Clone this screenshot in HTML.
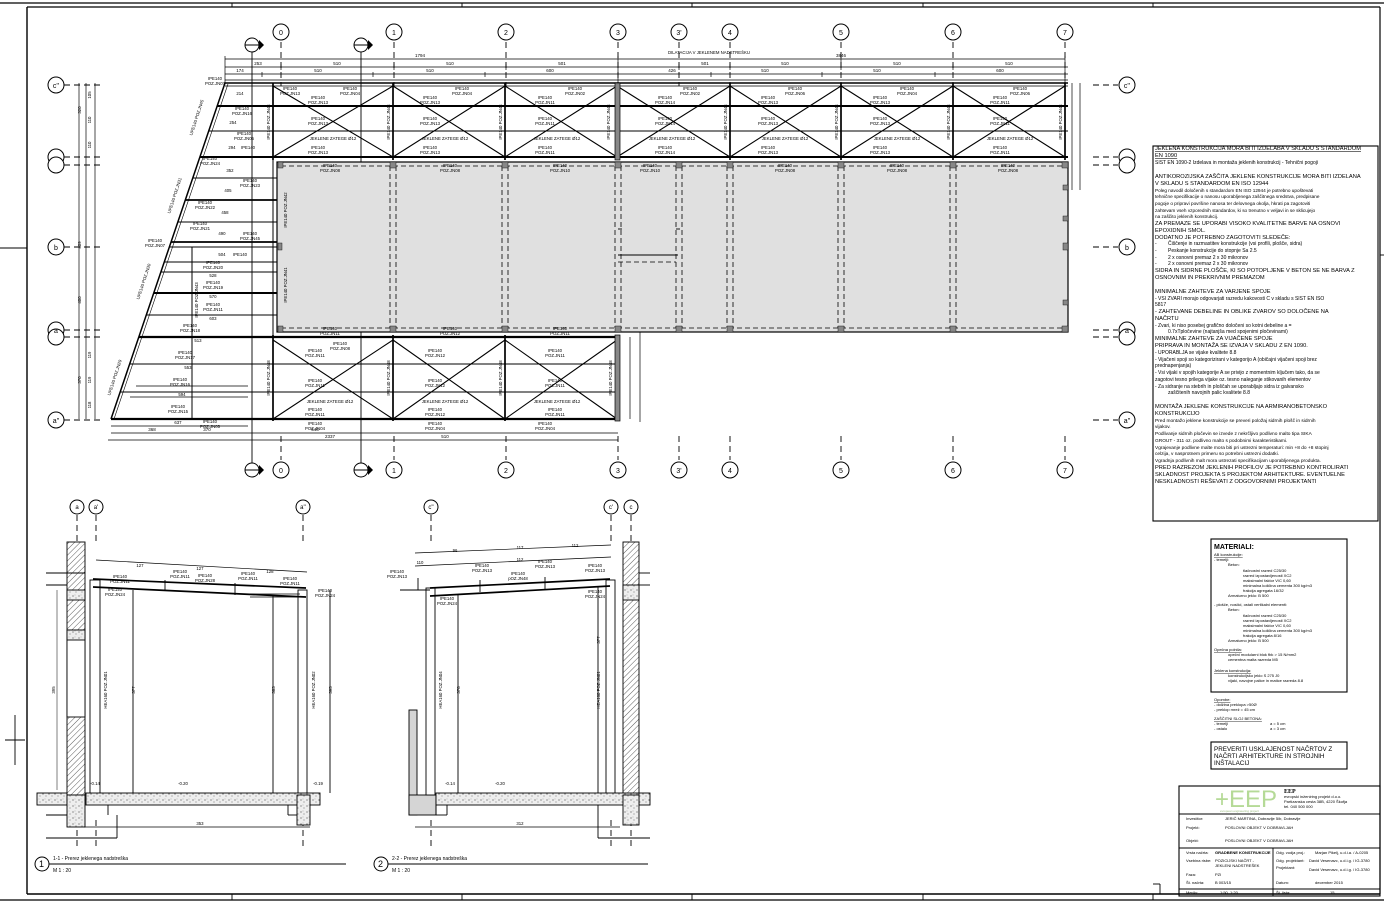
<!DOCTYPE html>
<html><head><meta charset="utf-8"><style>
html,body{margin:0;padding:0;background:#fff;}
svg{display:block;font-family:"Liberation Sans",sans-serif;}
</style></head><body>
<svg width="1384" height="902" viewBox="0 0 1384 902" xmlns="http://www.w3.org/2000/svg">
<defs>
<pattern id="hatch" width="4" height="4" patternUnits="userSpaceOnUse" patternTransform="rotate(45)"><line x1="0" y1="0" x2="0" y2="4" stroke="#333" stroke-width="0.8"/></pattern>
<pattern id="conc" width="6" height="6" patternUnits="userSpaceOnUse"><rect width="6" height="6" fill="#eee"/><circle cx="1" cy="2" r="0.6" fill="#555"/><circle cx="4" cy="4" r="0.5" fill="#555"/><circle cx="3" cy="1" r="0.4" fill="#777"/></pattern>
</defs>
<rect width="1384" height="902" fill="#fff"/>
<!-- frame -->
<g stroke="#000" fill="none">
<line x1="0" y1="3" x2="1384" y2="3" stroke-width="1.2"/>
<line x1="27" y1="7" x2="1380" y2="7" stroke-width="1.2"/>
<line x1="27" y1="7" x2="27" y2="894" stroke-width="1.4"/>
<line x1="27" y1="894" x2="1380" y2="894" stroke-width="1.4"/>
<line x1="0" y1="900" x2="1384" y2="900" stroke-width="1.2"/>
<line x1="1380" y1="7" x2="1380" y2="894" stroke-width="1.2"/>
<line x1="0" y1="248" x2="27" y2="248" stroke-width="0.9"/>
<line x1="1380" y1="255" x2="1384" y2="255" stroke-width="0.9"/>
<line x1="5" y1="740" x2="25" y2="740" stroke-width="0.9"/>
<line x1="15" y1="715" x2="15" y2="765" stroke-width="0.9"/>
<g stroke-width="0.9">
<line x1="232" y1="3" x2="232" y2="7"/><line x1="462" y1="3" x2="462" y2="7"/><line x1="692" y1="3" x2="692" y2="7"/><line x1="923" y1="3" x2="923" y2="7"/><line x1="1153" y1="3" x2="1153" y2="7"/>
<line x1="232" y1="894" x2="232" y2="900"/><line x1="462" y1="894" x2="462" y2="900"/><line x1="692" y1="894" x2="692" y2="900"/><line x1="923" y1="894" x2="923" y2="900"/><line x1="1153" y1="894" x2="1153" y2="900"/>
</g>
</g>

<!-- ============ PLAN ============ -->
<g stroke="#000" stroke-width="0.9" fill="none" stroke-dasharray="6,4">
<line x1="281" y1="42" x2="281" y2="86"/><line x1="394" y1="42" x2="394" y2="86"/><line x1="506" y1="42" x2="506" y2="86"/><line x1="618" y1="42" x2="618" y2="86"/><line x1="679" y1="42" x2="679" y2="86"/><line x1="730" y1="42" x2="730" y2="86"/><line x1="841" y1="42" x2="841" y2="86"/><line x1="953" y1="42" x2="953" y2="86"/><line x1="1065" y1="42" x2="1065" y2="86"/>
<line x1="281" y1="436" x2="281" y2="460"/><line x1="394" y1="436" x2="394" y2="460"/><line x1="506" y1="436" x2="506" y2="460"/><line x1="618" y1="436" x2="618" y2="460"/><line x1="679" y1="436" x2="679" y2="460"/><line x1="730" y1="436" x2="730" y2="460"/><line x1="841" y1="436" x2="841" y2="460"/><line x1="953" y1="436" x2="953" y2="460"/><line x1="1065" y1="436" x2="1065" y2="460"/>
<line x1="64" y1="85" x2="100" y2="85"/><line x1="64" y1="157" x2="100" y2="157"/><line x1="64" y1="165" x2="100" y2="165"/><line x1="64" y1="247" x2="100" y2="247"/><line x1="64" y1="330" x2="100" y2="330"/><line x1="64" y1="337" x2="100" y2="337"/><line x1="64" y1="420" x2="100" y2="420"/>
<line x1="1093" y1="85" x2="1118" y2="85"/><line x1="1093" y1="157" x2="1118" y2="157"/><line x1="1093" y1="165" x2="1118" y2="165"/><line x1="1093" y1="247" x2="1118" y2="247"/><line x1="1093" y1="330" x2="1118" y2="330"/><line x1="1093" y1="337" x2="1118" y2="337"/><line x1="1093" y1="420" x2="1118" y2="420"/>
</g>
<g stroke="#000" stroke-width="1" fill="#fff" font-size="7" text-anchor="middle">
<circle cx="281" cy="32" r="8"/><circle cx="394" cy="32" r="8"/><circle cx="506" cy="32" r="8"/><circle cx="618" cy="32" r="8"/><circle cx="679" cy="32" r="8"/><circle cx="730" cy="32" r="8"/><circle cx="841" cy="32" r="8"/><circle cx="953" cy="32" r="8"/><circle cx="1065" cy="32" r="8"/>
<circle cx="281" cy="470" r="8"/><circle cx="394" cy="470" r="8"/><circle cx="506" cy="470" r="8"/><circle cx="618" cy="470" r="8"/><circle cx="679" cy="470" r="8"/><circle cx="730" cy="470" r="8"/><circle cx="841" cy="470" r="8"/><circle cx="953" cy="470" r="8"/><circle cx="1065" cy="470" r="8"/>
<circle cx="56" cy="85" r="8"/><circle cx="56" cy="157" r="8"/><circle cx="56" cy="165" r="8"/><circle cx="56" cy="247" r="8"/><circle cx="56" cy="330" r="8"/><circle cx="56" cy="337" r="8"/><circle cx="56" cy="420" r="8"/>
<circle cx="1127" cy="85" r="8"/><circle cx="1127" cy="157" r="8"/><circle cx="1127" cy="165" r="8"/><circle cx="1127" cy="247" r="8"/><circle cx="1127" cy="330" r="8"/><circle cx="1127" cy="337" r="8"/><circle cx="1127" cy="420" r="8"/>
</g>
<g font-size="7" text-anchor="middle" fill="#000">
<text x="281" y="35">0</text><text x="394" y="35">1</text><text x="506" y="35">2</text><text x="618" y="35">3</text><text x="679" y="35">3'</text><text x="730" y="35">4</text><text x="841" y="35">5</text><text x="953" y="35">6</text><text x="1065" y="35">7</text>
<text x="281" y="473">0</text><text x="394" y="473">1</text><text x="506" y="473">2</text><text x="618" y="473">3</text><text x="679" y="473">3'</text><text x="730" y="473">4</text><text x="841" y="473">5</text><text x="953" y="473">6</text><text x="1065" y="473">7</text>
<text x="56" y="88">c''</text><text x="56" y="250">b</text><text x="56" y="333">a</text><text x="56" y="423">a''</text>
<text x="1127" y="88">c''</text><text x="1127" y="250">b</text><text x="1127" y="333">a</text><text x="1127" y="423">a''</text>
</g>
<g stroke="#000" stroke-width="0.9">
<line x1="252" y1="45" x2="252" y2="470"/><line x1="361" y1="45" x2="361" y2="470"/>
</g>
<g stroke="#000" stroke-width="1" fill="#fff">
<circle cx="252" cy="45" r="7"/><circle cx="361" cy="45" r="7"/><circle cx="361" cy="178" r="7"/><circle cx="361" cy="303" r="7"/><circle cx="252" cy="470" r="7"/><circle cx="361" cy="470" r="7"/>
<line x1="245" y1="45" x2="259" y2="45"/><line x1="354" y1="45" x2="368" y2="45"/><line x1="354" y1="178" x2="368" y2="178"/><line x1="354" y1="303" x2="368" y2="303"/><line x1="245" y1="470" x2="259" y2="470"/><line x1="354" y1="470" x2="368" y2="470"/>
</g>
<g fill="#000"><path d="M259,40 L264,45 L259,50Z"/><path d="M368,40 L373,45 L368,50Z"/><path d="M368,173 L373,178 L368,183Z"/><path d="M368,298 L373,303 L368,308Z"/><path d="M259,465 L264,470 L259,475Z"/><path d="M368,465 L373,470 L368,475Z"/></g>

<g stroke="#000" stroke-width="0.7">
<line x1="225" y1="59" x2="1065" y2="59"/><line x1="225" y1="67" x2="1068" y2="67"/><line x1="225" y1="74" x2="1068" y2="74"/><line x1="225" y1="80" x2="1068" y2="80"/>
<line x1="225" y1="56" x2="225" y2="83"/><line x1="281" y1="64" x2="281" y2="70"/><line x1="394" y1="64" x2="394" y2="70"/><line x1="506" y1="64" x2="506" y2="70"/><line x1="618" y1="56" x2="618" y2="83"/><line x1="679" y1="64" x2="679" y2="70"/><line x1="730" y1="64" x2="730" y2="70"/><line x1="841" y1="56" x2="841" y2="70"/><line x1="953" y1="64" x2="953" y2="70"/><line x1="1065" y1="56" x2="1065" y2="83"/>
<line x1="262" y1="72" x2="262" y2="77"/><line x1="373" y1="72" x2="373" y2="77"/><line x1="485" y1="72" x2="485" y2="77"/><line x1="711" y1="72" x2="711" y2="77"/><line x1="822" y1="72" x2="822" y2="77"/><line x1="935" y1="72" x2="935" y2="77"/>
<line x1="111" y1="426" x2="248" y2="426"/><line x1="111" y1="433" x2="618" y2="433"/><line x1="108" y1="440" x2="618" y2="440"/>
<line x1="79" y1="83" x2="79" y2="419"/><line x1="86" y1="83" x2="86" y2="419"/><line x1="95" y1="83" x2="95" y2="419"/>
<line x1="1072" y1="83" x2="1072" y2="190"/><line x1="1080" y1="83" x2="1080" y2="190"/>
<line x1="630" y1="337" x2="630" y2="419"/><line x1="640" y1="330" x2="640" y2="422"/>
</g>
<g font-size="4.5" fill="#000" text-anchor="middle">
<text x="420" y="57">1794</text><text x="841" y="57">3846</text>
<text x="258" y="65">253</text><text x="337" y="65">510</text><text x="450" y="65">510</text><text x="562" y="65">501</text><text x="705" y="65">501</text><text x="785" y="65">510</text><text x="897" y="65">510</text><text x="1009" y="65">510</text>
<text x="240" y="72">174</text><text x="318" y="72">510</text><text x="430" y="72">510</text><text x="550" y="72">600</text><text x="672" y="72">426</text><text x="765" y="72">510</text><text x="877" y="72">510</text><text x="1000" y="72">600</text>
<text x="152" y="431">368</text><text x="207" y="431">370</text><text x="315" y="431">546</text><text x="445" y="438">510</text><text x="330" y="438">2337</text>
<text x="668" y="54" text-anchor="start" font-size="4.3">DILATACIJA V JEKLENEM NADSTREŠKU</text>
</g>

<g stroke="#000" fill="none">
<line x1="225" y1="83" x2="1068" y2="83" stroke-width="1.5"/>
<line x1="225" y1="86" x2="1068" y2="86" stroke-width="0.7"/>
<line x1="217" y1="106" x2="1068" y2="106" stroke-width="2"/>
<line x1="209" y1="131" x2="1068" y2="131" stroke-width="1"/>
<line x1="200" y1="157" x2="1068" y2="157" stroke-width="2"/>
<line x1="225" y1="83" x2="111" y2="419" stroke-width="1.5"/>
<line x1="228" y1="84" x2="114" y2="419" stroke-width="0.6"/>
<g stroke-width="1.1">
<path d="M273,86 L393,157 M393,86 L273,157 M393,86 L505,157 M505,86 L393,157 M505,86 L617,157 M617,86 L505,157 M617,86 L730,157 M730,86 L617,157 M730,86 L841,157 M841,86 L730,157 M841,86 L953,157 M953,86 L841,157 M953,86 L1065,157 M1065,86 L953,157"/>
</g>
<g stroke-width="1.7">
<line x1="273" y1="83" x2="273" y2="160"/><line x1="393" y1="83" x2="393" y2="160"/><line x1="505" y1="83" x2="505" y2="160"/><line x1="730" y1="83" x2="730" y2="160"/><line x1="841" y1="83" x2="841" y2="160"/><line x1="953" y1="83" x2="953" y2="160"/><line x1="1065" y1="83" x2="1065" y2="160"/>
</g>
<rect x="615" y="83" width="5" height="77" fill="#888" stroke-width="0.7"/>
<g stroke-width="1">
<line x1="193" y1="178" x2="277" y2="178"/><line x1="185" y1="200" x2="277" y2="200" stroke-width="1.7"/><line x1="178" y1="222" x2="277" y2="222"/><line x1="171" y1="242" x2="277" y2="242" stroke-width="1.7"/><line x1="169" y1="247" x2="277" y2="247"/><line x1="164" y1="262" x2="277" y2="262"/><line x1="161" y1="272" x2="277" y2="272"/><line x1="154" y1="293" x2="277" y2="293" stroke-width="2"/><line x1="146" y1="315" x2="277" y2="315"/>
<line x1="192" y1="247" x2="192" y2="419"/>
<line x1="273" y1="160" x2="273" y2="337"/>
</g>
</g>
<rect x="277" y="162" width="791" height="170" fill="#e0e0e0" stroke="#000" stroke-width="1.2"/>
<g stroke="#000" stroke-width="0.8" fill="none" stroke-dasharray="5,3">
<line x1="281" y1="166" x2="1066" y2="166"/><line x1="281" y1="328" x2="1066" y2="328"/>
<line x1="390" y1="166" x2="390" y2="328"/><line x1="396" y1="166" x2="396" y2="328"/>
<line x1="502" y1="166" x2="502" y2="328"/><line x1="508" y1="166" x2="508" y2="328"/>
<line x1="615" y1="166" x2="615" y2="328"/><line x1="621" y1="166" x2="621" y2="328"/>
<line x1="676" y1="166" x2="676" y2="328"/><line x1="682" y1="166" x2="682" y2="328"/>
<line x1="727" y1="166" x2="727" y2="328"/><line x1="733" y1="166" x2="733" y2="328"/>
<line x1="838" y1="166" x2="838" y2="328"/><line x1="844" y1="166" x2="844" y2="328"/>
<line x1="950" y1="166" x2="950" y2="328"/><line x1="956" y1="166" x2="956" y2="328"/>
<line x1="618" y1="262" x2="676" y2="262"/>
</g>
<g stroke="#000" stroke-width="0.9" fill="none">
<line x1="618" y1="255" x2="678" y2="255"/><line x1="618" y1="229" x2="622" y2="229"/><line x1="676" y1="229" x2="680" y2="229"/>
</g>
<g fill="#888" stroke="#000" stroke-width="0.4">
<rect x="278" y="162" width="5" height="6"/><rect x="390" y="162" width="6" height="6"/><rect x="502" y="162" width="6" height="6"/><rect x="615" y="162" width="6" height="6"/><rect x="676" y="162" width="6" height="6"/><rect x="727" y="162" width="6" height="6"/><rect x="838" y="162" width="6" height="6"/><rect x="950" y="162" width="6" height="6"/><rect x="1062" y="162" width="6" height="6"/>
<rect x="278" y="326" width="5" height="6"/><rect x="390" y="326" width="6" height="6"/><rect x="502" y="326" width="6" height="6"/><rect x="615" y="326" width="6" height="6"/><rect x="676" y="326" width="6" height="6"/><rect x="727" y="326" width="6" height="6"/><rect x="838" y="326" width="6" height="6"/><rect x="950" y="326" width="6" height="6"/><rect x="1062" y="326" width="6" height="6"/>
<rect x="1063" y="185" width="5" height="5"/><rect x="1063" y="216" width="5" height="5"/><rect x="1063" y="243" width="5" height="7"/><rect x="1063" y="300" width="5" height="5"/>
<rect x="278" y="243" width="4" height="7"/>
</g>
<g stroke="#000" fill="none">
<line x1="139" y1="337" x2="620" y2="337" stroke-width="2.2"/>
<line x1="130" y1="364" x2="620" y2="364" stroke-width="1"/>
<line x1="120" y1="392" x2="620" y2="392" stroke-width="1"/>
<line x1="111" y1="419" x2="620" y2="419" stroke-width="2.2"/>
<g stroke-width="1.1"><path d="M273,340 L393,419 M393,340 L273,419 M393,340 L505,419 M505,340 L393,419 M505,340 L617,419 M617,340 L505,419"/></g>
<g stroke-width="1.7"><line x1="273" y1="335" x2="273" y2="421"/><line x1="393" y1="335" x2="393" y2="421"/><line x1="505" y1="335" x2="505" y2="421"/></g>
<rect x="615" y="335" width="5" height="86" fill="#888" stroke-width="0.7"/>
<line x1="136" y1="386" x2="248" y2="386" stroke-width="0.7"/><line x1="130" y1="397" x2="248" y2="397" stroke-width="0.7"/>
</g>
<g font-size="4.3" fill="#000" text-anchor="middle">
<text x="290" y="90">IPE140</text><text x="290" y="95">POZ.JN13</text>
<text x="350" y="90">IPE140</text><text x="350" y="95">POZ.JN04</text>
<text x="318" y="99">IPE140</text><text x="318" y="104">POZ.JN13</text>
<text x="318" y="120">IPE140</text><text x="318" y="125">POZ.JN13</text>
<text x="333" y="140">JEKLENE ZATEGE Ø12</text>
<text x="318" y="149">IPE140</text><text x="318" y="154">POZ.JN13</text>
<text x="462" y="90">IPE140</text><text x="462" y="95">POZ.JN04</text>
<text x="430" y="99">IPE140</text><text x="430" y="104">POZ.JN13</text>
<text x="430" y="120">IPE140</text><text x="430" y="125">POZ.JN13</text>
<text x="445" y="140">JEKLENE ZATEGE Ø12</text>
<text x="430" y="149">IPE140</text><text x="430" y="154">POZ.JN13</text>
<text x="575" y="90">IPE140</text><text x="575" y="95">POZ.JN02</text>
<text x="545" y="99">IPE140</text><text x="545" y="104">POZ.JN11</text>
<text x="545" y="120">IPE140</text><text x="545" y="125">POZ.JN11</text>
<text x="557" y="140">JEKLENE ZATEGE Ø12</text>
<text x="545" y="149">IPE140</text><text x="545" y="154">POZ.JN11</text>
<text x="690" y="90">IPE140</text><text x="690" y="95">POZ.JN02</text>
<text x="665" y="99">IPE140</text><text x="665" y="104">POZ.JN14</text>
<text x="665" y="120">IPE140</text><text x="665" y="125">POZ.JN14</text>
<text x="672" y="140">JEKLENE ZATEGE Ø12</text>
<text x="665" y="149">IPE140</text><text x="665" y="154">POZ.JN14</text>
<text x="795" y="90">IPE140</text><text x="795" y="95">POZ.JN06</text>
<text x="768" y="99">IPE140</text><text x="768" y="104">POZ.JN13</text>
<text x="768" y="120">IPE140</text><text x="768" y="125">POZ.JN13</text>
<text x="785" y="140">JEKLENE ZATEGE Ø12</text>
<text x="768" y="149">IPE140</text><text x="768" y="154">POZ.JN13</text>
<text x="907" y="90">IPE140</text><text x="907" y="95">POZ.JN04</text>
<text x="880" y="99">IPE140</text><text x="880" y="104">POZ.JN13</text>
<text x="880" y="120">IPE140</text><text x="880" y="125">POZ.JN13</text>
<text x="897" y="140">JEKLENE ZATEGE Ø12</text>
<text x="880" y="149">IPE140</text><text x="880" y="154">POZ.JN13</text>
<text x="1020" y="90">IPE140</text><text x="1020" y="95">POZ.JN06</text>
<text x="1000" y="99">IPE140</text><text x="1000" y="104">POZ.JN11</text>
<text x="1000" y="120">IPE140</text><text x="1000" y="125">POZ.JN11</text>
<text x="1010" y="140">JEKLENE ZATEGE Ø12</text>
<text x="1000" y="149">IPE140</text><text x="1000" y="154">POZ.JN11</text>
<text x="330" y="167">IPE140</text><text x="330" y="172">POZ.JN08</text>
<text x="450" y="167">IPE140</text><text x="450" y="172">POZ.JN08</text>
<text x="560" y="167">IPE140</text><text x="560" y="172">POZ.JN10</text>
<text x="650" y="167">IPE140</text><text x="650" y="172">POZ.JN10</text>
<text x="785" y="167">IPE140</text><text x="785" y="172">POZ.JN08</text>
<text x="897" y="167">IPE140</text><text x="897" y="172">POZ.JN08</text>
<text x="1008" y="167">IPE140</text><text x="1008" y="172">POZ.JN08</text>
<text x="330" y="330">IPE140</text><text x="330" y="335">POZ.JN11</text>
<text x="450" y="330">IPE140</text><text x="450" y="335">POZ.JN12</text>
<text x="560" y="330">IPE140</text><text x="560" y="335">POZ.JN11</text>
<text x="340" y="345">IPE140</text><text x="340" y="350">POZ.JN08</text>
<text x="315" y="352">IPE140</text><text x="315" y="357">POZ.JN11</text>
<text x="435" y="352">IPE140</text><text x="435" y="357">POZ.JN12</text>
<text x="555" y="352">IPE140</text><text x="555" y="357">POZ.JN11</text>
<text x="315" y="382">IPE140</text><text x="315" y="387">POZ.JN11</text>
<text x="435" y="382">IPE140</text><text x="435" y="387">POZ.JN12</text>
<text x="555" y="382">IPE140</text><text x="555" y="387">POZ.JN11</text>
<text x="330" y="403">JEKLENE ZATEGE Ø12</text><text x="445" y="403">JEKLENE ZATEGE Ø12</text><text x="557" y="403">JEKLENE ZATEGE Ø12</text>
<text x="315" y="411">IPE140</text><text x="315" y="416">POZ.JN11</text>
<text x="435" y="411">IPE140</text><text x="435" y="416">POZ.JN12</text>
<text x="555" y="411">IPE140</text><text x="555" y="416">POZ.JN11</text>
<text x="315" y="425">IPE140</text><text x="315" y="430">POZ.JN04</text>
<text x="435" y="425">IPE140</text><text x="435" y="430">POZ.JN04</text>
<text x="545" y="425">IPE140</text><text x="545" y="430">POZ.JN04</text>
<text x="215" y="80">IPE140</text><text x="215" y="85">POZ.JN07</text>
<text x="240" y="95">214</text><text x="242" y="110">IPE140</text><text x="242" y="115">POZ.JN16</text>
<text x="233" y="124">254</text><text x="244" y="135">IPE140</text><text x="244" y="140">POZ.JN05</text>
<text x="232" y="149">294</text><text x="248" y="149">IPE140</text>
<text x="210" y="160">IPE140</text><text x="210" y="165">POZ.JN24</text><text x="230" y="172">352</text>
<text x="250" y="182">IPE140</text><text x="250" y="187">POZ.JN23</text><text x="228" y="192">405</text>
<text x="205" y="204">IPE140</text><text x="205" y="209">POZ.JN22</text><text x="225" y="214">458</text>
<text x="200" y="225">IPE140</text><text x="200" y="230">POZ.JN21</text><text x="222" y="235">490</text>
<text x="250" y="235">IPE140</text><text x="250" y="240">POZ.JN45</text>
<text x="155" y="242">IPE140</text><text x="155" y="247">POZ.JN07</text>
<text x="222" y="256">504</text><text x="240" y="256">IPE140</text>
<text x="213" y="264">IPE140</text><text x="213" y="269">POZ.JN20</text><text x="213" y="277">528</text>
<text x="213" y="284">IPE140</text><text x="213" y="289">POZ.JN19</text><text x="213" y="298">570</text>
<text x="213" y="306">IPE140</text><text x="213" y="311">POZ.JN11</text><text x="213" y="320">603</text>
<text x="190" y="327">IPE140</text><text x="190" y="332">POZ.JN18</text><text x="198" y="342">513</text>
<text x="185" y="354">IPE140</text><text x="185" y="359">POZ.JN17</text><text x="188" y="369">553</text>
<text x="180" y="381">IPE140</text><text x="180" y="386">POZ.JN16</text><text x="182" y="396">594</text>
<text x="178" y="408">IPE140</text><text x="178" y="413">POZ.JN15</text><text x="178" y="424">637</text>
<text x="210" y="423">IPE140</text><text x="210" y="428">POZ.JN05</text>
</g>
<g font-size="4.3" fill="#000" text-anchor="middle">
<text transform="translate(390,122) rotate(-90)">IPE140 POZ.JN44</text>
<text transform="translate(502,122) rotate(-90)">IPE140 POZ.JN44</text>
<text transform="translate(610,122) rotate(-90)">IPE140 POZ.JN44</text>
<text transform="translate(727,122) rotate(-90)">IPE140 POZ.JN44</text>
<text transform="translate(838,122) rotate(-90)">IPE140 POZ.JN44</text>
<text transform="translate(950,122) rotate(-90)">IPE140 POZ.JN44</text>
<text transform="translate(1062,122) rotate(-90)">IPE140 POZ.JN44</text>
<text transform="translate(270,122) rotate(-90)">IPE140 POZ.JN44</text>
<text transform="translate(287,210) rotate(-90)">IPE140 POZ.JN42</text>
<text transform="translate(287,285) rotate(-90)">IPE140 POZ.JN41</text>
<text transform="translate(270,378) rotate(-90)">IPE140 POZ.JN48</text>
<text transform="translate(390,378) rotate(-90)">IPE140 POZ.JN48</text>
<text transform="translate(502,378) rotate(-90)">IPE140 POZ.JN48</text>
<text transform="translate(612,378) rotate(-90)">IPE140 POZ.JN48</text>
<text transform="translate(198,300) rotate(-90)">IPE140 POZ.JN43</text>
<text transform="translate(198,118) rotate(-72)">UPE140 POZ.JN45</text>
<text transform="translate(176,196) rotate(-72)">UPE140 POZ.JN31</text>
<text transform="translate(145,282) rotate(-72)">UPE140 POZ.JN30</text>
<text transform="translate(116,378) rotate(-72)">UPE140 POZ.JN29</text>
<text transform="translate(81,110) rotate(-90)">320</text><text transform="translate(81,245) rotate(-90)">409</text><text transform="translate(81,300) rotate(-90)">400</text><text transform="translate(81,380) rotate(-90)">370</text>
<text transform="translate(91,95) rotate(-90)">105</text><text transform="translate(91,120) rotate(-90)">110</text><text transform="translate(91,145) rotate(-90)">110</text><text transform="translate(91,355) rotate(-90)">119</text><text transform="translate(91,380) rotate(-90)">119</text><text transform="translate(91,405) rotate(-90)">118</text>
</g>

<!-- ============ SECTION 1 ============ -->
<g stroke="#000" stroke-width="0.9" fill="none" stroke-dasharray="6,4">
<line x1="77" y1="515" x2="77" y2="545"/><line x1="96" y1="515" x2="96" y2="545"/><line x1="303" y1="515" x2="303" y2="545"/>
<line x1="77" y1="820" x2="77" y2="848"/><line x1="96" y1="820" x2="96" y2="848"/><line x1="303" y1="820" x2="303" y2="848"/>
<line x1="96" y1="580" x2="96" y2="795"/><line x1="303" y1="590" x2="303" y2="795"/>
<line x1="431" y1="515" x2="431" y2="545"/><line x1="611" y1="515" x2="611" y2="545"/><line x1="631" y1="515" x2="631" y2="545"/>
<line x1="431" y1="820" x2="431" y2="848"/><line x1="611" y1="820" x2="611" y2="848"/><line x1="631" y1="820" x2="631" y2="848"/>
<line x1="431" y1="590" x2="431" y2="795"/><line x1="611" y1="582" x2="611" y2="795"/>
</g>
<g stroke="#000" stroke-width="1" fill="#fff">
<circle cx="77" cy="507" r="7"/><circle cx="96" cy="507" r="7"/><circle cx="303" cy="507" r="7"/>
<circle cx="431" cy="507" r="7"/><circle cx="611" cy="507" r="7"/><circle cx="631" cy="507" r="7"/>
</g>
<g font-size="6" text-anchor="middle"><text x="77" y="509">a</text><text x="96" y="509">a'</text><text x="303" y="509">a''</text><text x="431" y="509">c''</text><text x="611" y="509">c'</text><text x="631" y="509">c</text></g>

<g stroke="#000" stroke-width="0.9">
<rect x="67" y="542" width="18" height="253" fill="url(#hatch)"/>
<rect x="67" y="590" width="18" height="10" fill="url(#conc)"/>
<rect x="67" y="630" width="18" height="87" fill="#fff"/>
<rect x="67" y="630" width="18" height="10" fill="url(#conc)"/>
<line x1="46" y1="573" x2="85" y2="573"/><line x1="46" y1="585" x2="67" y2="585"/>
<rect x="90" y="580" width="10" height="215" fill="#fff"/>
<rect x="298" y="590" width="9" height="205" fill="#fff"/>
<line x1="133" y1="590" x2="133" y2="793"/><line x1="273" y1="595" x2="273" y2="793"/><line x1="330" y1="590" x2="330" y2="793"/>
<line x1="57" y1="590" x2="57" y2="790" stroke-width="0.5"/>
<line x1="93" y1="579" x2="306" y2="588" stroke-width="1.7"/>
<line x1="93" y1="587" x2="306" y2="597" stroke-width="1.7"/>
<line x1="96" y1="560" x2="307" y2="572" stroke-width="0.7"/>
<line x1="165" y1="580" x2="165" y2="590"/><line x1="235" y1="583" x2="235" y2="595"/>
<line x1="250" y1="594" x2="300" y2="594" stroke-width="0.7"/><line x1="250" y1="597" x2="300" y2="597" stroke-width="0.7"/>
<rect x="86" y="793" width="234" height="12" fill="url(#conc)"/>
<rect x="37" y="793" width="30" height="12" fill="url(#conc)"/>
<rect x="67" y="795" width="18" height="32" fill="url(#conc)"/>
<rect x="297" y="795" width="13" height="30" fill="url(#conc)"/>
<line x1="46" y1="815" x2="67" y2="815"/><line x1="46" y1="838" x2="117" y2="838"/><line x1="117" y1="815" x2="117" y2="838"/><line x1="108" y1="805" x2="108" y2="815"/>
<line x1="288" y1="805" x2="288" y2="815"/><line x1="288" y1="815" x2="297" y2="815"/>
<line x1="84" y1="827" x2="310" y2="827" stroke-width="0.7"/>
</g>
<g font-size="4.3" fill="#000" text-anchor="middle">
<text x="140" y="567">127</text><text x="200" y="570">127</text><text x="270" y="573">128</text>
<text x="120" y="578">IPE140</text><text x="120" y="583">POZ.JN11</text>
<text x="180" y="573">IPE140</text><text x="180" y="578">POZ.JN11</text>
<text x="205" y="577">IPE140</text><text x="205" y="582">POZ.JN28</text>
<text x="248" y="575">IPE140</text><text x="248" y="580">POZ.JN11</text>
<text x="290" y="580">IPE140</text><text x="290" y="585">POZ.JN11</text>
<text x="115" y="591">IPE140</text><text x="115" y="596">POZ.JN24</text>
<text x="325" y="592">IPE140</text><text x="325" y="597">POZ.JN24</text>
<text x="200" y="825">353</text><text x="95" y="785">-0.14</text><text x="183" y="785">-0.20</text><text x="318" y="785">-0.19</text>
<text transform="translate(107,690) rotate(-90)">HEA160 POZ.JN01</text>
<text transform="translate(315,690) rotate(-90)">HEA160 POZ.JN02</text>
<text transform="translate(135,690) rotate(-90)">377</text>
<text transform="translate(275,690) rotate(-90)">383</text>
<text transform="translate(332,690) rotate(-90)">395</text>
<text transform="translate(55,690) rotate(-90)">395</text>
</g>

<!-- ============ SECTION 2 ============ -->
<g stroke="#000" stroke-width="0.9">
<rect x="409" y="710" width="8" height="105" fill="#d5d5d5"/>
<rect x="409" y="795" width="27" height="20" fill="#d5d5d5"/>
<rect x="426" y="588" width="9" height="207" fill="#fff"/>
<rect x="606" y="580" width="9" height="215" fill="#fff"/>
<rect x="623" y="542" width="16" height="253" fill="url(#hatch)"/>
<rect x="623" y="585" width="16" height="15" fill="url(#conc)"/>
<line x1="639" y1="573" x2="650" y2="573"/><line x1="639" y1="585" x2="650" y2="585"/>
<line x1="458" y1="594" x2="458" y2="793"/><line x1="598" y1="586" x2="598" y2="793"/>
<line x1="430" y1="588" x2="610" y2="579" stroke-width="1.7"/>
<line x1="430" y1="596" x2="610" y2="586" stroke-width="1.7"/>
<line x1="415" y1="553" x2="611" y2="545" stroke-width="0.7"/>
<line x1="415" y1="566" x2="611" y2="557" stroke-width="0.7"/>
<line x1="480" y1="580" x2="480" y2="592"/><line x1="545" y1="577" x2="545" y2="589"/>
<line x1="400" y1="590" x2="430" y2="590"/><line x1="418" y1="578" x2="418" y2="590"/>
<rect x="436" y="793" width="203" height="12" fill="url(#conc)"/>
<rect x="639" y="793" width="11" height="12" fill="url(#conc)"/>
<rect x="623" y="795" width="16" height="30" fill="url(#conc)"/>
<line x1="436" y1="805" x2="436" y2="815"/><line x1="436" y1="815" x2="447" y2="815"/><line x1="447" y1="805" x2="447" y2="815"/>
<line x1="598" y1="805" x2="598" y2="838"/><line x1="598" y1="838" x2="650" y2="838"/>
<line x1="415" y1="827" x2="620" y2="827" stroke-width="0.7"/>
</g>
<g font-size="4.3" fill="#000" text-anchor="middle">
<text x="455" y="552">96</text><text x="520" y="549">117</text><text x="575" y="547">112</text>
<text x="420" y="564">110</text><text x="520" y="561">112</text>
<text x="397" y="573">IPE140</text><text x="397" y="578">POZ.JN13</text>
<text x="482" y="567">IPE140</text><text x="482" y="572">POZ.JN13</text>
<text x="518" y="575">IPE140</text><text x="518" y="580">pOZ.JN48</text>
<text x="545" y="563">IPE140</text><text x="545" y="568">POZ.JN13</text>
<text x="595" y="567">IPE140</text><text x="595" y="572">POZ.JN13</text>
<text x="447" y="600">IPE140</text><text x="447" y="605">POZ.JN24</text>
<text x="595" y="593">IPE140</text><text x="595" y="598">POZ.JN24</text>
<text x="520" y="825">312</text><text x="450" y="785">-0.14</text><text x="500" y="785">-0.20</text>
<text transform="translate(442,690) rotate(-90)">HEA160 POZ.JN04</text>
<text transform="translate(600,690) rotate(-90)">HEA160 POZ.JN01</text>
<text transform="translate(460,690) rotate(-90)">378</text>
<text transform="translate(600,640) rotate(-90)">377</text>
</g>
<g stroke="#000" fill="#fff" stroke-width="1">
<circle cx="42" cy="864" r="7"/><circle cx="381" cy="864" r="7"/>
<line x1="49" y1="864" x2="346" y2="864"/><line x1="388" y1="864" x2="648" y2="864"/>
</g>
<g font-size="5" fill="#000">
<text x="39" y="867" font-size="9">1</text><text x="378" y="867" font-size="9">2</text>
<text x="53" y="860">1-1 - Prerez jeklenega nadstreška</text><text x="53" y="872">M   1 : 20</text>
<text x="392" y="860">2-2 - Prerez jeklenega nadstreška</text><text x="392" y="872">M   1 : 20</text>
</g>

<!-- ============ NOTES ============ -->
<rect x="1153" y="146" width="225" height="375" fill="none" stroke="#000" stroke-width="1.1"/>
<g font-size="5.7" fill="#000">
<text x="1155" y="150" text-decoration="underline">JEKLENA KONSTRUKCIJA MORA BITI IZDELABA V SKLADU S STANDARDOM</text>
<text x="1155" y="157" text-decoration="underline">EN 1090</text>
<text x="1155" y="164" font-size="5">SIST EN 1090-2 Izdelava in montaža jeklenih konstrukcij - Tehnični pogoji</text>
<text x="1155" y="178">ANTIKOROZIJSKA ZAŠČITA JEKLENE KONSTRUKCIJE MORA BITI IZDELANA</text>
<text x="1155" y="185">V SKLADU S STANDARDOM EN ISO 12944</text>
<g font-size="4.7">
<text x="1155" y="192">Poleg navodil določenih s standardom EN ISO 12944 je potrebno upoštevati</text>
<text x="1155" y="198">tehnične specifikacije o nanosu uporabljenega zaščitnega sredstva, predpisane</text>
<text x="1155" y="205">pogoje o pripravi površine nanosa ter delovnega okolja, hkrati pa zagotoviti</text>
<text x="1155" y="212">zahtevam vseh vzporednih standardov, ki so trenutno v veljavi in se sklicujejo</text>
<text x="1155" y="218">na zaščito jeklenih konstrukcij.</text>
</g>
<text x="1155" y="225">ZA PREMAZE SE UPORABI VISOKO KVALITETNE BARVE NA OSNOVI</text>
<text x="1155" y="232">EPOXIDNIH SMOL.</text>
<text x="1155" y="239">DODATNO JE POTREBNO ZAGOTOVITI SLEDEČE:</text>
<g font-size="5">
<text x="1155" y="245">-</text><text x="1168" y="245">Čiščenje in razmastitev konstrukcije (vsi profili, plošče, sidra)</text>
<text x="1155" y="252">-</text><text x="1168" y="252">Peskanje konstrukcije do stopnje Sa 2.5</text>
<text x="1155" y="259">-</text><text x="1168" y="259">2 x osnovni premaz 2 x 30 mikronov</text>
<text x="1155" y="265">-</text><text x="1168" y="265">2 x osnovni premaz 2 x 30 mikronov</text>
</g>
<text x="1155" y="272">SIDRA IN SIDRNE PLOŠČE, KI SO POTOPLJENE V BETON SE NE BARVA Z</text>
<text x="1155" y="279">OSNOVNIM IN PREKRIVNIM PREMAZOM</text>
<text x="1155" y="293">MINIMALNE ZAHTEVE ZA VARJENE SPOJE</text>
<text x="1155" y="300" font-size="5">-      VSI ZVARI morajo odgovarjati razredu kakovosti C v skladu s SIST EN ISO</text>
<text x="1155" y="306" font-size="5">5817</text>
<text x="1155" y="313">-      ZAHTEVANE DEBELINE IN OBLIKE ZVAROV SO DOLOČENE NA</text>
<text x="1155" y="320">NAČRTU</text>
<g font-size="5">
<text x="1155" y="327">-      Zvari, ki niso posebej grafično določeni so kotni debeline a =</text>
<text x="1168" y="333">0.7xTpločevine (najtanjša med spojenimi pločevinami)</text>
</g>
<text x="1155" y="340">MINIMALNE ZAHTEVE ZA VIJAČENE SPOJE</text>
<text x="1155" y="347">PRIPRAVA IN MONTAŽA SE IZVAJA V SKLADU Z EN 1090.</text>
<g font-size="5">
<text x="1155" y="354">-      UPORABLJA se vijake kvalitete 8.8</text>
<text x="1155" y="361">-      Vijačeni spoji so kategorizirani v kategorijo A (običajni vijačeni spoji brez</text>
<text x="1155" y="367">prednapenjanja)</text>
<text x="1155" y="374">-      Vsi vijaki v spojih kategorije A se privijo z momentnim ključem tako, da se</text>
<text x="1155" y="381">zagotovi tesno prilega vijake oz. tesno naleganje stikovanih elementov</text>
<text x="1155" y="388">-      Za sidranje na stebrih in ploščah se uporabljajo sidra iz galvansko</text>
<text x="1168" y="394">zaščitenih navojnih palic kvalitete 8.8</text>
</g>
<text x="1155" y="408">MONTAŽA JEKLENE KONSTRUKCIJE NA ARMIRANOBETONSKO</text>
<text x="1155" y="415">KONSTRUKCIJO</text>
<g font-size="4.8">
<text x="1155" y="422">Pred montažo jeklene konstrukcije se preveri položaj sidrnih plošč in sidrnih</text>
<text x="1155" y="428">vijakov.</text>
<text x="1155" y="435">Podlivanje sidrnih pločevin se izvede z nekrčljivo podlivno malto tipa SIKA</text>
<text x="1155" y="442">GROUT - 311 oz. podlivno malto s podobnimi karakteristikami.</text>
<text x="1155" y="449">Vgrajevanje podlivne malte mora biti pri ustrezni temperaturi: min +8 do +8 stopinj</text>
<text x="1155" y="455">celzija, v nasprotnem primeru so potrebni ustrezni dodatki.</text>
<text x="1155" y="462">Vgradnja podlivnih malt mora ustrezati specifikacijam uporabljenega produkta.</text>
</g>
<text x="1155" y="469">PRED RAZREZOM JEKLENIH PROFILOV JE POTREBNO KONTROLIRATI</text>
<text x="1155" y="476">SKLADNOST PROJEKTA S PROJEKTOM ARHITEKTURE. EVENTUELNE</text>
<text x="1155" y="483">NESKLADNOSTI REŠEVATI Z ODGOVORNIMI PROJEKTANTI</text>
</g>

<rect x="1211" y="539" width="136" height="153" fill="none" stroke="#000" stroke-width="1.1"/>
<g fill="#000" font-size="4">
<text x="1214" y="549" font-size="7" font-weight="bold">MATERIALI:</text>
<text x="1214" y="556" text-decoration="underline">AB konstrukcije:</text>
<text x="1214" y="561">- temelji:</text>
<text x="1228" y="566">Beton:</text>
<text x="1243" y="572">tlačnostni razred C25/30</text>
<text x="1243" y="577">razred izpostavljenosti XC2</text>
<text x="1243" y="582">maksimalni faktor V/C 0,60</text>
<text x="1243" y="587">minimalna količina cementa 300 kg/m3</text>
<text x="1243" y="592">frakcija agregata 16/32</text>
<text x="1228" y="597">Armaturno jeklo: B 500</text>
<text x="1214" y="606">- plošče, nosilci, ostali vertikalni elementi:</text>
<text x="1228" y="611">Beton:</text>
<text x="1243" y="617">tlačnostni razred C25/30</text>
<text x="1243" y="622">razred izpostavljenosti XC2</text>
<text x="1243" y="627">maksimalni faktor V/C 0,60</text>
<text x="1243" y="632">minimalna količina cementa 300 kg/m3</text>
<text x="1243" y="637">frakcija agregata 8/16</text>
<text x="1228" y="642">Armaturno jeklo: B 500</text>
<text x="1214" y="651" text-decoration="underline">Opečna polnila:</text>
<text x="1228" y="656">opečni modularni blok fbk &gt; 15 N/mm2</text>
<text x="1228" y="661">cementna malta razreda M5</text>
<text x="1214" y="672" text-decoration="underline">Jeklena konstrukcija:</text>
<text x="1228" y="677">konstrukcijsko jeklo S 275 J0</text>
<text x="1228" y="682">vijaki, navojne palice in matice razreda 8.8</text>
<text x="1214" y="701" text-decoration="underline">Opombe:</text>
<text x="1214" y="706">-        dolžina preklopa &gt;50Ø</text>
<text x="1214" y="711">-        preklop mrež = 45 cm</text>
<text x="1214" y="720" text-decoration="underline">ZAŠČITNI SLOJ BETONA:</text>
<text x="1214" y="725">-        temelji</text><text x="1270" y="725">a = 5 cm</text>
<text x="1214" y="730">-        ostalo</text><text x="1270" y="730">a = 3 cm</text>
</g>
<rect x="1211" y="742" width="136" height="27" fill="none" stroke="#000" stroke-width="1.1"/>
<g fill="#000" font-size="6.3">
<text x="1214" y="751">PREVERITI USKLAJENOST NAČRTOV Z</text>
<text x="1214" y="758">NAČRTI ARHITEKTURE IN STROJNIH</text>
<text x="1214" y="765">INŠTALACIJ</text>
</g>

<g stroke="#000" fill="none" stroke-width="0.9">
<rect x="1179" y="786" width="201" height="110" stroke-width="1.1"/>
<line x1="1179" y1="814" x2="1380" y2="814"/>
<line x1="1179" y1="848" x2="1380" y2="848"/>
<line x1="1179" y1="889" x2="1380" y2="889"/>
<line x1="1273" y1="848" x2="1273" y2="896"/>
<line x1="1212" y1="848" x2="1212" y2="896" stroke-width="0"/>
<line x1="1153" y1="884" x2="1160" y2="884"/><line x1="1160" y1="884" x2="1160" y2="894"/>
</g>
<text x="1215" y="807" font-size="24" fill="#b5da97" font-family="Liberation Sans, sans-serif">+EEP</text>
<text x="1220" y="812" font-size="3" fill="#9bbb80">evropean engineering project</text>
<g fill="#000" font-size="4">
<text x="1284" y="793" font-size="6" font-weight="bold" font-family="Liberation Serif, serif">EEP</text>
<text x="1284" y="798">evropski inženiring projekt d.o.o.</text>
<text x="1284" y="803">Partizanska cesta 38B, 4220 Škofja</text>
<text x="1284" y="808">tel. 040 500 000</text>
<text x="1186" y="820">Investitor:</text><text x="1225" y="820">JERIČ MARTINA, Dobravlje 5/b, Dobravlje</text>
<text x="1186" y="829">Projekt:</text><text x="1225" y="829">POSLOVNI OBJEKT V DOBRAVLJAH</text>
<text x="1186" y="842">Objekt:</text><text x="1225" y="842">POSLOVNI OBJEKT V DOBRAVLJAH</text>
<text x="1186" y="854">Vrsta načrta:</text><text x="1215" y="854" font-weight="bold">GRADBENE KONSTRUKCIJE</text>
<text x="1186" y="862">Vsebina risbe:</text><text x="1215" y="862">POZICIJSKI NAČRT -</text><text x="1215" y="867">JEKLENI NADSTREŠEK</text>
<text x="1186" y="876">Faza:</text><text x="1215" y="876">PZI</text>
<text x="1186" y="884">Št. načrta:</text><text x="1215" y="884">B 003/15</text>
<text x="1186" y="894">Merilo:</text><text x="1220" y="894">1:50, 1:20</text>
<text x="1276" y="854">Odg. vodja proj.:</text><text x="1315" y="854">Marjan Pikelj, u.d.i.a. / A-0205</text>
<text x="1276" y="862">Odg. projektant:</text><text x="1309" y="862">David Vesenavc, u.d.i.g. / IG-3780</text>
<text x="1276" y="869">Projektant:</text><text x="1309" y="871">David Vesenavc, u.d.i.g. / IG-3780</text>
<text x="1276" y="884">Datum:</text><text x="1315" y="884">december 2015</text>
<text x="1276" y="894">Št. lista:</text><text x="1330" y="894">15</text>
</g>
</svg>
</body></html>
